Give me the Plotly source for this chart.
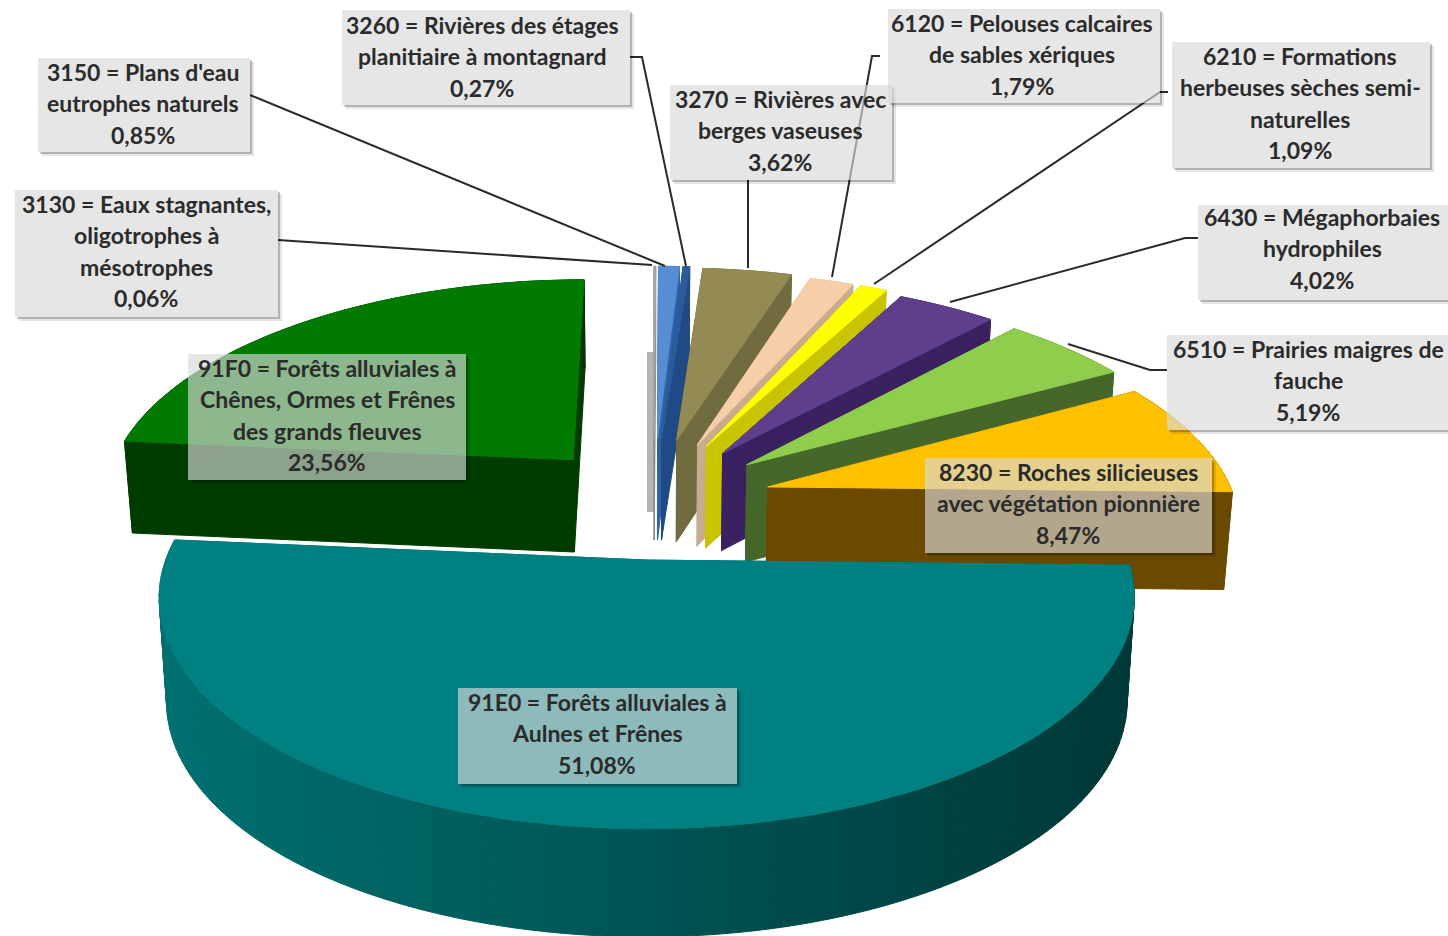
import numpy as np
import plotly.graph_objects as go

# habitat shares, clockwise from the top of the pie
codes = ["3130", "3150", "3260", "3270", "6120", "6210", "6430", "6510", "8230", "91E0", "91F0"]
shares = [0.06, 0.85, 0.27, 3.62, 1.79, 1.09, 4.02, 5.19, 8.47, 51.08, 23.56]
names = [
    ["= Eaux stagnantes,", "oligotrophes à", "mésotrophes"],
    ["= Plans d'eau", "eutrophes naturels"],
    ["= Rivières des étages", "planitiaire à montagnard"],
    ["= Rivières avec", "berges vaseuses"],
    ["= Pelouses calcaires", "de sables xériques"],
    ["= Formations", "herbeuses sèches semi-", "naturelles"],
    ["= Mégaphorbaies", "hydrophiles"],
    ["= Prairies maigres de", "fauche"],
    ["= Roches silicieuses", "avec végétation pionnière"],
    ["= Forêts alluviales à", "Aulnes et Frênes"],
    ["= Forêts alluviales à", "Chênes, Ormes et Frênes", "des grands fleuves"],
]

# slice styling: top colour, wall colour at left, wall colour at right
top_colors = ["#a6a6a6", "#558ed5", "#2a5c9c", "#948a54", "#f6cfa8", "#ffff00",
              "#5f3f8c", "#8fce4c", "#ffc000", "#008080", "#007a00"]
wall_left = ["#8a8a8a", "#2f62a5", "#1f4a85", "#716b40", "#c9ab90", "#c8c400",
             "#3a2160", "#45682a", "#6b4a00", "#007070", "#003c00"]
wall_right = ["#8a8a8a", "#2f62a5", "#1f4a85", "#716b40", "#c9ab90", "#c8c400",
              "#3a2160", "#45682a", "#6b4a00", "#003838", "#002c00"]

# per-slice fit to the drawing: pixel shift, radius scale across / along the view, wall height
shift_x = [4, 4, 4, 5, 7, 6, 6, 5, 2, 4, 2]
shift_y = [0, 0, 0, 1, 3, 3, 6, 7, 9, 12, 8]
scale_u = [1, 1, 1, 1, 1, 1, 1, 1, 0.99, 0.978, 1]
scale_v = [1, 1, 1, 1, 1, 1, 1, 1, 1, 0.965, 1.03]
wall_scale = [1.05, 1.05, 1.05, 1.05, 1.05, 1.05, 1, 1, 1, 1.04, 0.95]

# label boxes: x0, x1, y0, y1, text centre, first line y
boxes = [
    (15, 278, 190, 317, 146, 205),
    (38, 250, 58, 152, 143, 73),
    (342, 630, 10, 105, 482, 26),
    (670, 892, 85, 180, 780, 100),
    (888, 1160, 9, 103, 1022, 24),
    (1172, 1430, 42, 168, 1300, 57),
    (1198, 1448, 205, 300, 1322, 218),
    (1167, 1448, 335, 430, 1308, 350),
    (925, 1212, 458, 553, 1068, 473),
    (458, 737, 688, 784, 597, 703),
    (188, 466, 354, 480, 327, 369),
]
leaders = [
    [(278, 240), (652, 265)],
    [(250, 95), (665, 266)],
    [(630, 57), (642, 57), (686, 266)],
    [(748, 180), (748, 268)],
    [(880, 56), (872, 56), (832, 277)],
    [(1168, 92), (1160, 92), (874, 284)],
    [(1198, 238), (1185, 238), (950, 302)],
    [(1167, 370), (1150, 370), (1068, 344)],
]

# projection of the tilted pie into page pixels
CX, CY = 650, 491
RX, RY = 472, 215
PERSP = 0.16
DEPTH = 98
SHRINK = 0.985
EXPLODE = 0.255


def project(u, v):
    s = 1 / (1 + PERSP * v)
    return CX + RX * u * s, CY - RY * v * s


def drop(u, v, height=1.0):
    """Point on the underside of the pie, below the projected (u, v)."""
    x, y = project(u, v)
    d = height * DEPTH / (1 + 0.5 * PERSP * v)
    return CX + (x - CX) * SHRINK, CY + (y - CY) * SHRINK + d


def mix(c1, c2, t):
    a = [int(c1[i:i + 2], 16) for i in (1, 3, 5)]
    b = [int(c2[i:i + 2], 16) for i in (1, 3, 5)]
    return "rgb(%d,%d,%d)" % tuple(round(p + (q - p) * t) for p, q in zip(a, b))


def polygon(fig, pts, dx, dy, color):
    xs = [p[0] + dx for p in pts]
    ys = [p[1] + dy for p in pts]
    fig.add_trace(go.Scatter(
        x=xs + [xs[0]], y=ys + [ys[0]], mode="lines", fill="toself",
        fillcolor=color, line=dict(color=color, width=1), hoverinfo="skip", showlegend=False,
    ))


fig = go.Figure()

total = sum(shares)
edges = np.concatenate([[0], np.cumsum(shares)]) / total * 2 * np.pi

# 91F0 sits behind everything, then the small slices left to right, 91E0 in front
order = [10, 0, 1, 2, 3, 4, 5, 6, 7, 8, 9]
for i in order:
    a0, a1 = edges[i], edges[i + 1]
    mid = (a0 + a1) / 2
    ou, ov = EXPLODE * np.sin(mid), EXPLODE * np.cos(mid)
    n = max(3, int((a1 - a0) / np.radians(1.5)))
    angles = np.linspace(a0, a1, n)
    us = ou + scale_u[i] * np.sin(angles)
    vs = ov + scale_v[i] * np.cos(angles)
    dx, dy, h = shift_x[i], shift_y[i], wall_scale[i]

    # radial walls
    for u, v in [(us[0], vs[0]), (us[-1], vs[-1])]:
        polygon(fig, [project(ou, ov), project(u, v), drop(u, v, h), drop(ou, ov, h)], dx, dy, wall_left[i])

    # rim wall, shaded along the arc
    for j in range(n - 1):
        p = [project(us[j], vs[j]), project(us[j + 1], vs[j + 1]),
             drop(us[j + 1], vs[j + 1], h), drop(us[j], vs[j], h)]
        t = (p[0][0] - 158) / (1135 - 158)
        polygon(fig, p, dx, dy, mix(wall_left[i], wall_right[i], float(np.clip(t, 0, 1))))

    # top face
    polygon(fig, [project(ou, ov)] + [project(u, v) for u, v in zip(us, vs)], dx, dy, top_colors[i])

shapes = []
for x0, x1, y0, y1, _, _ in boxes:
    for off, alpha in [(2, 0.22), (4, 0.1)]:
        shapes.append(dict(type="rect", x0=x0 + off, x1=x1 + off, y0=y1, y1=y1 + off,
                           fillcolor="rgba(0,0,0,%s)" % alpha, line_width=0, layer="above"))
        shapes.append(dict(type="rect", x0=x1, x1=x1 + off, y0=y0 + off, y1=y1,
                           fillcolor="rgba(0,0,0,%s)" % alpha, line_width=0, layer="above"))
    shapes.append(dict(type="rect", x0=x0, x1=x1, y0=y0, y1=y1,
                       fillcolor="rgba(217,217,217,0.65)", line_width=0, layer="above"))

# faint grey shadow left of the blue slice
shapes.append(dict(type="rect", x0=647, x1=655, y0=352, y1=512,
                   fillcolor="rgba(150,150,150,0.7)", line_width=0, layer="below"))

for pts in leaders:
    fig.add_trace(go.Scatter(
        x=[p[0] for p in pts], y=[p[1] for p in pts], mode="lines",
        line=dict(color="#2a2a2a", width=2), hoverinfo="skip", showlegend=False,
    ))

annotations = []
for code, share, lines, box in zip(codes, shares, names, boxes):
    _, _, _, _, xc, y = box
    rows = [code + " " + lines[0]] + lines[1:] + [("%.2f%%" % share).replace(".", ",")]
    for k, row in enumerate(rows):
        annotations.append(dict(
            x=xc, y=y - 1 + k * 31.3, text="<b>" + row + "</b>", showarrow=False,
            xanchor="center", yanchor="middle",
            font=dict(family="Lato", size=23, color="#2b2b2b"),
        ))

fig.update_layout(
    width=1448,
    height=936,
    margin=dict(l=0, r=0, t=0, b=0),
    paper_bgcolor="white",
    plot_bgcolor="white",
    showlegend=False,
    xaxis=dict(range=[0, 1448], visible=False, fixedrange=True),
    yaxis=dict(range=[936, 0], visible=False, fixedrange=True),
    shapes=shapes,
    annotations=annotations,
)

fig.write_html("out.html", config={"displayModeBar": False},
               post_script="document.body.style.margin='0';")
